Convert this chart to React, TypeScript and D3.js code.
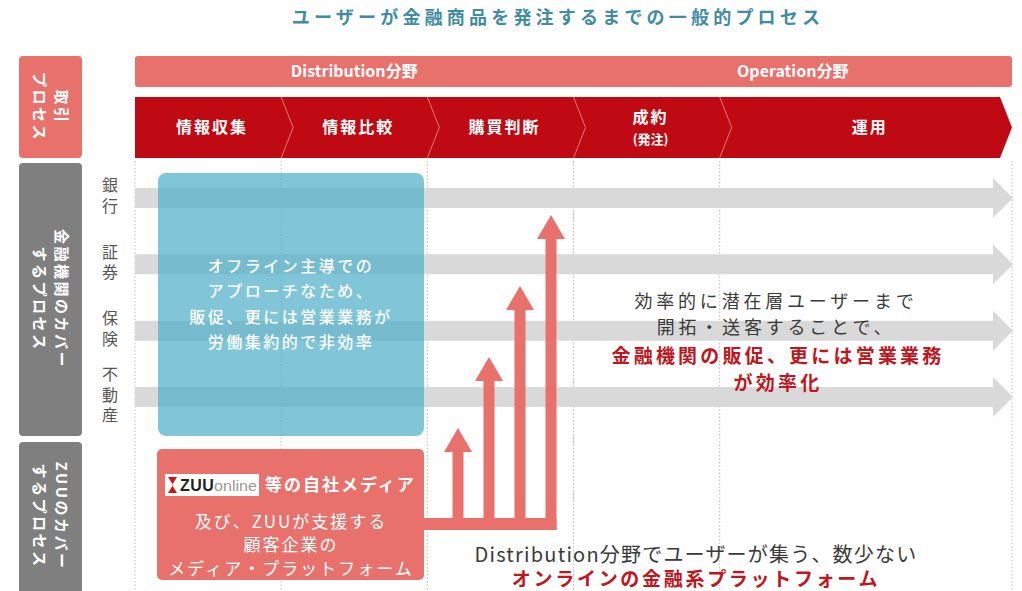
import React from "react";
import * as d3 from "d3";

// texts and values
const title = "ユーザーが金融商品を発注するまでの一般的プロセス";
const domains = [
  { label: "Distribution分野", from: 0, to: 3 },
  { label: "Operation分野", from: 3, to: 6 },
];
const steps = [
  { lines: ["情報収集"], span: 1 },
  { lines: ["情報比較"], span: 1 },
  { lines: ["購買判断"], span: 1 },
  { lines: ["成約", "(発注)"], span: 1 },
  { lines: ["運用"], span: 2 },
];
const rows = ["銀行", "証券", "保険", "不動産"];
const arrowLevels = [1, 2, 3, 4];
const sideLabels = [
  ["取引", "プロセス"],
  ["金融機関のカバー", "するプロセス"],
  ["ZUUのカバー", "するプロセス"],
];
const offlineLines = [
  "オフライン主導での",
  "アプローチなため、",
  "販促、更には営業業務が",
  "労働集約的で非効率",
];
const zuuHead = "等の自社メディア";
const zuuLines = ["及び、ZUUが支援する", "顧客企業の", "メディア・プラットフォーム"];
const effectLines = ["効率的に潜在層ユーザーまで", "開拓・送客することで、"];
const effectRedLines = ["金融機関の販促、更には営業業務", "が効率化"];
const bottomLine = "Distribution分野でユーザーが集う、数少ない";
const bottomRedLine = "オンラインの金融系プラットフォーム";

const W = 1022;
const H = 591;
const FONT = "'Noto Sans CJK JP', 'Noto Sans', sans-serif";
const RED = "#bf0a14";
const SALMON = "#e8716c";
const GREY = "#7f7f7f";
const BAND = "#d9d9d9";
const TEXT = "#3a3a3a";
const TEXTRED = "#c0161d";

const x = d3.scaleLinear().domain([0, 6]).range([135, 1012]);
const yRow = d3.scalePoint<string>().domain(rows).range([198, 397]);
const yLevel = d3.scaleLinear().domain([1, 4]).range([428, 215]);
const xArrow = d3
  .scalePoint<string>()
  .domain(arrowLevels.map(String))
  .range([458, 551]);

const bounds = steps.reduce<number[]>((acc, s) => [...acc, acc[acc.length - 1] + s.span], [0]);

const RotLabel = ({ lines, cx, cy }: { lines: string[]; cx: number; cy: number }) => (
  <g transform={`translate(${cx},${cy}) rotate(90)`}>
    {lines.map((l, i) => (
      <text
        key={i}
        x={0}
        y={(i - (lines.length - 1) / 2) * 22}
        dy="0.35em"
        textAnchor="middle"
        fill="#fff"
        fontSize={15}
        fontWeight={700}
        letterSpacing={2.5}
      >
        {l}
      </text>
    ))}
  </g>
);

const App = () => {
  const chevron = d3.line()([
    [x(0), 97],
    [x(6) - 12, 97],
    [x(6), 127.5],
    [x(6) - 12, 158],
    [x(0), 158],
  ]) + "Z";

  const grayArrow = (cy: number) =>
    d3.line()([
      [x(0), cy - 10],
      [x(6) - 19, cy - 10],
      [x(6) - 19, cy - 20],
      [x(6) + 1, cy],
      [x(6) - 19, cy + 20],
      [x(6) - 19, cy + 10],
      [x(0), cy + 10],
    ]) + "Z";

  const connY = 524;
  const shaft = 11;
  const lastX = xArrow(String(arrowLevels[arrowLevels.length - 1])) as number;

  return (
    <>
      <style>{"body{margin:0}"}</style>
      <svg width={W} height={H} style={{ display: "block", fontFamily: FONT }}>
        <text x={558} y={18} dy="0.35em" textAnchor="middle" fill="#3f8ca3" fontSize={18} fontWeight={700} letterSpacing={4.2}>
          {title}
        </text>

        {/* side labels */}
        <rect x={19} y={56} width={63} height={102} rx={4} fill={SALMON} />
        <RotLabel lines={sideLabels[0]} cx={50.5} cy={107} />
        <rect x={19} y={163} width={63} height={273} rx={4} fill={GREY} />
        <RotLabel lines={sideLabels[1]} cx={50.5} cy={299} />
        <rect x={19} y={442} width={63} height={160} rx={4} fill={GREY} />
        <RotLabel lines={sideLabels[2]} cx={50.5} cy={516} />

        {/* domain header */}
        <rect x={x(0)} y={56} width={x(6) - x(0)} height={31} rx={3} fill={SALMON} />
        {domains.map((d) => (
          <text key={d.label} x={(x(d.from) + x(d.to)) / 2} y={71.5} dy="0.35em" textAnchor="middle" fill="#fff" fontSize={16} fontWeight={700}>
            {d.label}
          </text>
        ))}

        {/* step chevron */}
        <path d={chevron} fill={RED} />
        {bounds.slice(1, -1).map((b) => (
          <path
            key={b}
            d={d3.line()([[x(b), 97], [x(b) + 12, 127.5], [x(b), 158]]) as string}
            fill="none"
            stroke="#fff"
            strokeOpacity={0.45}
            strokeWidth={1}
          />
        ))}
        {steps.map((s, i) => {
          const cx = (x(bounds[i]) + x(bounds[i + 1])) / 2 + 4;
          return s.lines.length === 1 ? (
            <text key={i} x={cx} y={127.5} dy="0.35em" textAnchor="middle" fill="#fff" fontSize={16} fontWeight={700} letterSpacing={2}>
              {s.lines[0]}
            </text>
          ) : (
            <g key={i}>
              <text x={cx} y={117} dy="0.35em" textAnchor="middle" fill="#fff" fontSize={16} fontWeight={700} letterSpacing={2}>
                {s.lines[0]}
              </text>
              <text x={cx} y={139} dy="0.35em" textAnchor="middle" fill="#fff" fontSize={13} fontWeight={700}>
                {s.lines[1]}
              </text>
            </g>
          );
        })}

        {/* dotted guides */}
        {bounds.map((b) => (
          <line key={b} x1={x(b)} x2={x(b)} y1={161} y2={H} stroke="#bdbdbd" strokeWidth={1} strokeDasharray="1.5 2" />
        ))}

        {/* rows */}
        {rows.map((r) => {
          const cy = yRow(r) as number;
          const chars = Array.from(r);
          return (
            <g key={r}>
              <path d={grayArrow(cy)} fill={BAND} />
              {chars.map((c, i) => (
                <text key={i} x={110} y={cy - 2 + (i - (chars.length - 1) / 2) * 20.5} dy="0.35em" textAnchor="middle" fill="#555" fontSize={16}>
                  {c}
                </text>
              ))}
            </g>
          );
        })}

        {/* offline box */}
        <rect x={158} y={173} width={266} height={263} rx={8} fill="#4fb0c9" fillOpacity={0.72} />
        {offlineLines.map((l, i) => (
          <text key={i} x={291} y={266 + i * 25.5} dy="0.35em" textAnchor="middle" fill="#fff" fontSize={16} fontWeight={500} letterSpacing={2.5}>
            {l}
          </text>
        ))}

        {/* ZUU box */}
        <rect x={157} y={449} width={267} height={131} rx={5} fill={SALMON} />
        <rect x={165} y={474} width={94} height={22} fill="#fff" />
        <path d="M168,477 L177,477 L172,485 L177,493 L168,493 L173,485 Z" fill="#d0141c" />
        <text x={180} y={485} dy="0.36em" fill="#222" fontSize={16} fontWeight={700} fontFamily="'Liberation Sans', sans-serif" letterSpacing={0.5}>
          ZUU
        </text>
        <text x={214} y={486} dy="0.36em" fill="#999" fontSize={14} fontFamily="'Liberation Sans Narrow', 'Liberation Sans', sans-serif" textLength={43} lengthAdjust="spacingAndGlyphs">
          online
        </text>
        <text x={265} y={485} dy="0.36em" fill="#fff" fontSize={17} fontWeight={700} letterSpacing={2}>
          {zuuHead}
        </text>
        {zuuLines.map((l, i) => (
          <text key={i} x={291} y={522 + i * 23.5} dy="0.35em" textAnchor="middle" fill="#fff" fontSize={17} letterSpacing={2}>
            {l}
          </text>
        ))}

        {/* red arrows */}
        <rect x={424} y={connY - 6} width={lastX + shaft / 2 - 424} height={12} fill={SALMON} />
        {arrowLevels.map((lv) => {
          const ax = xArrow(String(lv)) as number;
          const tip = yLevel(lv);
          return (
            <g key={lv}>
              <rect x={ax - shaft / 2} y={tip + 22} width={shaft} height={connY + 6 - tip - 22} fill={SALMON} />
              <path d={d3.line()([[ax, tip], [ax + 14, tip + 24], [ax - 14, tip + 24]]) + "Z"} fill={SALMON} />
            </g>
          );
        })}

        {/* effect text */}
        {effectLines.map((l, i) => (
          <text key={i} x={776} y={302 + i * 26} dy="0.35em" textAnchor="middle" fill={TEXT} fontSize={18} letterSpacing={3.8}>
            {l}
          </text>
        ))}
        {effectRedLines.map((l, i) => (
          <text key={i} x={778} y={356 + i * 27} dy="0.35em" textAnchor="middle" fill={TEXTRED} fontSize={19} fontWeight={700} letterSpacing={3.2}>
            {l}
          </text>
        ))}

        {/* bottom text */}
        <text x={696} y={555} dy="0.35em" textAnchor="middle" fill={TEXT} fontSize={20} letterSpacing={1.2}>
          {bottomLine}
        </text>
        <text x={696} y={579} dy="0.35em" textAnchor="middle" fill={TEXTRED} fontSize={19} fontWeight={700} letterSpacing={2.7}>
          {bottomRedLine}
        </text>
      </svg>
    </>
  );
};

export default App;
